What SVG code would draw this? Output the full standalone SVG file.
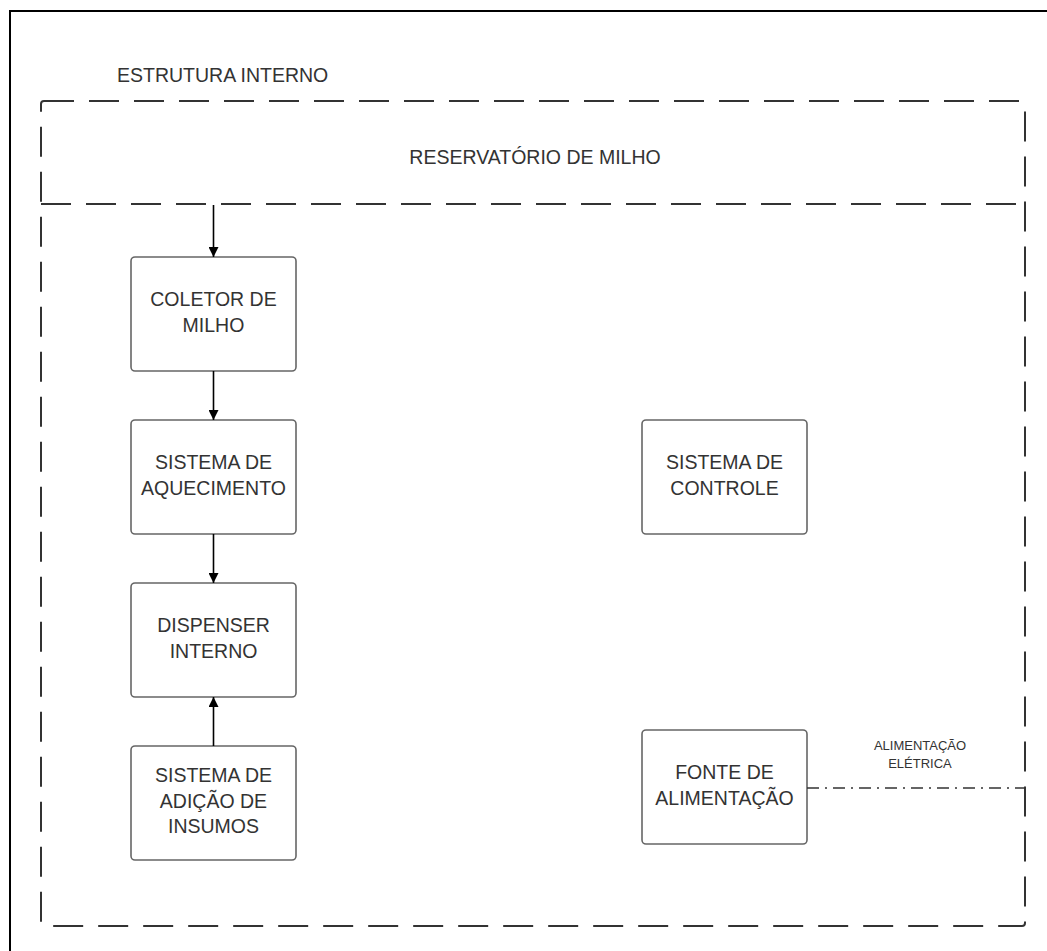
<svg xmlns="http://www.w3.org/2000/svg" width="1047" height="951" viewBox="0 0 1047 951">
  <style>
    .frame { fill: none; stroke: #000; stroke-width: 2; }
    .zone { fill: none; stroke: #333; stroke-width: 2; stroke-dasharray: 30 15; }
    .box { fill: #fff; stroke: #666; stroke-width: 1.6; }
    .lbl { font-family: "Liberation Sans", Arial, sans-serif; font-size: 19.5px; fill: #333; text-anchor: middle; }
    .small { font-family: "Liberation Sans", Arial, sans-serif; font-size: 13px; fill: #333; text-anchor: middle; }
    .flow { stroke: #000; stroke-width: 1.6; fill: none; marker-end: url(#arrow); }
    .power { stroke: #333; stroke-width: 1.6; fill: none; stroke-dasharray: 12 6 2 6; }
  </style>
  <defs>
    <marker id="arrow" viewBox="0 0 10 10" refX="10" refY="5" markerWidth="10" markerHeight="10" markerUnits="userSpaceOnUse" orient="auto">
      <path d="M0,0 L10,5 L0,10 z" fill="#000"/>
    </marker>
  </defs>

  <rect width="1047" height="951" fill="#fff"/>

  <!-- outer frame -->
  <path class="frame" d="M10,951 V11 H1047"/>

  <!-- internal structure container -->
  <g id="estrutura-interno">
    <text x="117" y="82" font-family="'Liberation Sans', Arial, sans-serif" font-size="19.5" fill="#333">ESTRUTURA INTERNO</text>
    <rect class="zone" x="41" y="101" width="984" height="825" rx="3"/>
  </g>

  <!-- corn reservoir -->
  <g id="reservatorio">
    <line class="zone" x1="41" y1="204" x2="1025" y2="204"/>
    <text class="lbl" x="535" y="164" font-size="20">RESERVATÓRIO DE MILHO</text>
  </g>

  <g id="coletor">
    <rect class="box" x="131" y="257" width="165" height="114" rx="4"/>
    <text class="lbl" x="213.5" y="306">COLETOR DE</text>
    <text class="lbl" x="213.5" y="332">MILHO</text>
  </g>

  <g id="aquecimento">
    <rect class="box" x="131" y="420" width="165" height="114" rx="4"/>
    <text class="lbl" x="213.5" y="469">SISTEMA DE</text>
    <text class="lbl" x="213.5" y="495">AQUECIMENTO</text>
  </g>

  <g id="dispenser">
    <rect class="box" x="131" y="583" width="165" height="114" rx="4"/>
    <text class="lbl" x="213.5" y="632">DISPENSER</text>
    <text class="lbl" x="213.5" y="658">INTERNO</text>
  </g>

  <g id="insumos">
    <rect class="box" x="131" y="746" width="165" height="114" rx="4"/>
    <text class="lbl" x="213.5" y="782">SISTEMA DE</text>
    <text class="lbl" x="213.5" y="808">ADIÇÃO DE</text>
    <text class="lbl" x="213.5" y="833">INSUMOS</text>
  </g>

  <g id="controle">
    <rect class="box" x="642" y="420" width="165" height="114" rx="4"/>
    <text class="lbl" x="724.5" y="469">SISTEMA DE</text>
    <text class="lbl" x="724.5" y="495">CONTROLE</text>
  </g>

  <g id="fonte">
    <rect class="box" x="642" y="730" width="165" height="114" rx="4"/>
    <text class="lbl" x="724.5" y="779">FONTE DE</text>
    <text class="lbl" x="724.5" y="805">ALIMENTAÇÃO</text>
  </g>

  <!-- connectors -->
  <g id="connectors">
    <line class="flow" x1="213.5" y1="205" x2="213.5" y2="257"/>
    <line class="flow" x1="213.5" y1="371" x2="213.5" y2="420"/>
    <line class="flow" x1="213.5" y1="534" x2="213.5" y2="583"/>
    <line class="flow" x1="213.5" y1="746" x2="213.5" y2="697"/>
    <line class="power" x1="807" y1="788" x2="1025" y2="788"/>
    <text class="small" x="920" y="750">ALIMENTAÇÃO</text>
    <text class="small" x="920" y="768">ELÉTRICA</text>
  </g>
</svg>
